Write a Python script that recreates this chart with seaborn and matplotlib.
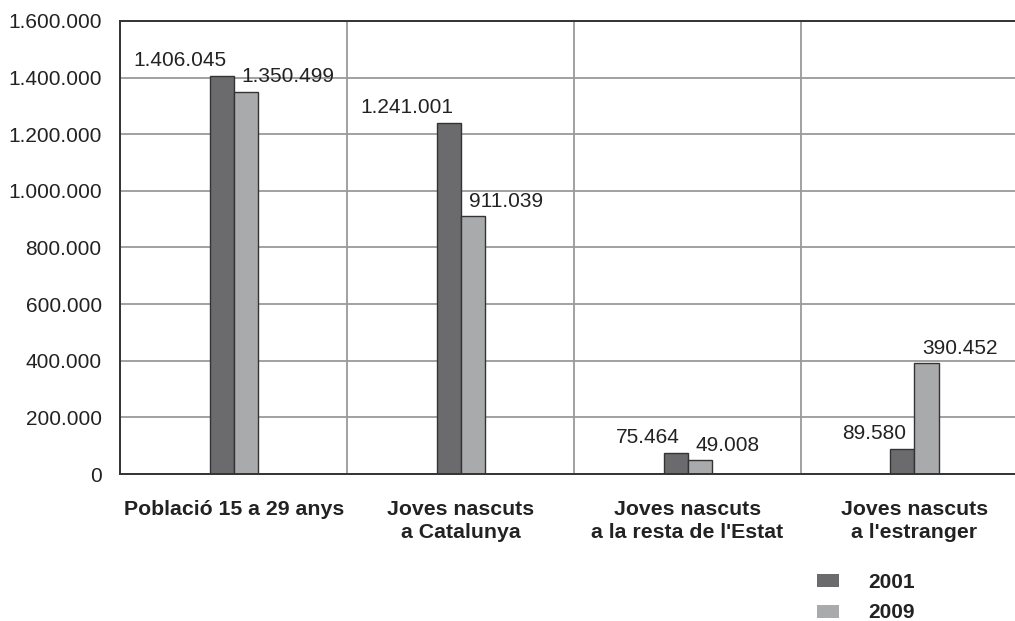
import pandas
import seaborn
import matplotlib.pyplot as plt

# data
categories = ["Població 15 a 29 anys",
              "Joves nascuts\na Catalunya",
              "Joves nascuts\na la resta de l'Estat",
              "Joves nascuts\na l'estranger"]
years = ["2001", "2009"]
vals_2001 = [1406045, 1241001, 75464, 89580]
vals_2009 = [1350499, 911039, 49008, 390452]
yticks = [0, 200000, 400000, 600000, 800000, 1000000, 1200000, 1400000, 1600000]

colors = {"2001": "#6b6b6e", "2009": "#a9aaac"}
GRID = "#9a9a9a"
DARK = "#333333"


def fmt(v):
    # catalan thousands separator
    return "{:,}".format(v).replace(",", ".")


if __name__ == "__main__":
    seaborn.set_style("white")
    plt.rcParams['font.family'] = ['Liberation Sans', 'DejaVu Sans']

    df = pandas.DataFrame({
        "cat": categories * 2,
        "year": [years[0]] * 4 + [years[1]] * 4,
        "value": vals_2001 + vals_2009,
    })

    fig = plt.figure(figsize=(10.15, 6.21), dpi=100)
    ax = fig.add_axes([0.1187, 0.2367, 0.894, 0.7295])

    seaborn.barplot(data=df, x="cat", y="value", hue="year", order=categories,
                    hue_order=years, palette=colors, width=0.212, gap=0,
                    edgecolor=DARK, linewidth=1.0, legend=False, ax=ax)

    ax.set_xlim(-0.5, 3.5)
    ax.set_ylim(0, 1600000)
    ax.set_yticks(yticks)
    ax.set_yticklabels([fmt(t) for t in yticks], fontsize=15, color="#222222")
    ax.set_xlabel("")
    ax.set_ylabel("")

    # category labels
    ax.set_xticks(range(len(categories)))
    ax.set_xticklabels(categories, fontsize=15.3, fontweight="bold",
                       color="#222222", linespacing=1.22)
    ax.tick_params(axis="x", which="major", length=0, pad=19)

    # separators between categories, hanging below the axis
    ax.set_xticks([-0.5, 0.5, 1.5, 2.5], minor=True)
    ax.tick_params(axis="x", which="minor", length=8.5, width=1.2,
                   color=GRID, direction="out")
    ax.grid(axis="x", which="minor", color=GRID, linewidth=1.3)
    ax.tick_params(axis="y", length=8.5, width=1.2, color=GRID,
                   direction="out", pad=5)
    ax.grid(axis="y", which="major", color=GRID, linewidth=1.3)
    ax.set_axisbelow(True)

    for side in ["left", "bottom", "top"]:
        ax.spines[side].set_color(DARK)
        ax.spines[side].set_linewidth(1.4)
    ax.spines["right"].set_visible(False)

    # value labels, 2001 to the left of the bar centre, 2009 to the right
    for i, cont in enumerate(ax.containers):
        for bar in cont:
            xc = bar.get_x() + bar.get_width() / 2
            h = bar.get_height()
            if i == 0:
                ax.annotate(fmt(int(round(h))), (xc, h), xytext=(3, 4),
                            textcoords="offset points", ha="right", va="bottom",
                            fontsize=15, color="#222222")
            else:
                ax.annotate(fmt(int(round(h))), (xc, h), xytext=(-3, 4),
                            textcoords="offset points", ha="left", va="bottom",
                            fontsize=15, color="#222222")

    # legend under the last category
    handles = [plt.Rectangle((0, 0), 1, 1, facecolor=colors[y], edgecolor="none")
               for y in years]
    leg = fig.legend(handles, years, loc="upper left",
                     bbox_to_anchor=(817 / 1015, 1 - 573 / 621),
                     frameon=False, borderpad=0, borderaxespad=0,
                     handlelength=1.05, handleheight=0.58, handletextpad=1.4,
                     labelspacing=0.55, prop={"size": 15, "weight": "bold"})
    for t in leg.get_texts():
        t.set_color("#222222")

    plt.savefig("out.png", format="png", dpi=100)
